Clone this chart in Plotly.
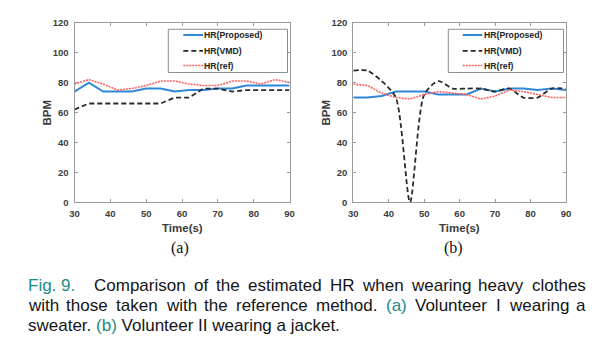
import plotly.graph_objects as go

# ---------------- data ----------------
t = [30, 34, 38, 42, 46, 50, 54, 58, 62, 66, 70, 74, 78, 82, 86, 90]

a_proposed = [74, 80, 74, 74, 74, 76, 76, 74, 75, 75, 76, 76, 78, 78, 78, 78]
a_vmd      = [62, 66, 66, 66, 66, 66, 66, 70, 70, 76, 76, 74, 75, 75, 75, 75]
a_ref      = [79, 82, 79, 75, 76, 78, 81, 81, 79, 78, 78, 81, 81, 79, 82, 80]

b_proposed = [70, 70, 71, 74, 74, 74, 72, 72, 72, 76, 74, 76, 76, 75, 76, 75]
b_vmd      = [88, 88, 81, 70, 0, 72, 81, 76, 76, 76, 74, 76, 70, 70, 76, 76]
b_ref      = [79, 78, 73, 70, 69, 72, 74, 73, 72, 69, 71, 75, 74, 72, 70, 70]

yticks = [0, 20, 40, 60, 80, 100, 120]
xticks = [30, 40, 50, 60, 70, 80, 90]
names = ["HR(Proposed)", "HR(VMD)", "HR(ref)"]
panel_labels = ["(a)", "(b)"]

# ---------------- style ----------------
W, H = 597, 355
OFF = 8                      # the page body adds an 8px margin
FW, FH = W - OFF, H - OFF    # figure size that fits the window
BLUE = "#2f87d8"
BLACK = "#2a2a2a"
RED = "#ff5f5f"
AX = "#9a9a9a"
TXT = "#3c3c3c"
TEAL = "#1d8a86"
SANS = "Liberation Sans, Arial, Helvetica"
SERIF = "Liberation Serif, Times New Roman"

styles = [
    dict(color=BLUE, width=2.0),
    dict(color=BLACK, width=1.8, dash="5px,3px"),
    dict(color=RED, width=1.6, dash="2px,1px"),
]

fig = go.Figure()

def add_panel(xa, ya, series, vmd_shape):
    for i, (nm, ys) in enumerate(zip(names, series)):
        ln = dict(styles[i])
        if i == 1:
            ln["shape"] = vmd_shape
            if vmd_shape == "spline":
                ln["smoothing"] = 0.7
        fig.add_trace(go.Scatter(x=t, y=ys, mode="lines", name=nm, line=ln,
                                 xaxis=xa, yaxis=ya, showlegend=False))

add_panel("x", "y", [a_proposed, a_vmd, a_ref], "linear")
add_panel("x2", "y2", [b_proposed, b_vmd, b_ref], "spline")

def P(x, y):
    """screen pixel -> paper fraction"""
    return (x - OFF) / FW, 1 - (y - OFF) / FH

# panel geometry (screen pixels)
px_a = [74.5, 289.5]
px_b = [353.3, 566.0]
py = [22.7, 202.3]
ydom = [P(0, py[1])[1], P(0, py[0])[1]]

tickfont = dict(family=SANS, size=9.5, color=TXT, weight="bold")

def xaxis(px, anchor):
    return dict(domain=[P(px[0], 0)[0], P(px[1], 0)[0]], anchor=anchor, range=[30, 90],
                tickmode="array", tickvals=xticks,
                ticks="inside", ticklen=3, tickcolor=AX, tickwidth=1,
                showline=True, linecolor=AX, linewidth=1, mirror="ticks",
                showgrid=False, zeroline=False, tickfont=tickfont,
                ticklabelstandoff=2, fixedrange=True)

def yaxis(anchor):
    return dict(domain=ydom, anchor=anchor, range=[0, 120],
                tickmode="array", tickvals=yticks,
                ticks="inside", ticklen=3, tickcolor=AX, tickwidth=1,
                showline=True, linecolor=AX, linewidth=1, mirror="ticks",
                showgrid=False, zeroline=False, tickfont=tickfont,
                ticklabelstandoff=3, fixedrange=True)

fig.update_layout(
    width=FW, height=FH, margin=dict(l=0, r=0, t=0, b=0, autoexpand=False),
    paper_bgcolor="white", plot_bgcolor="white", showlegend=False,
    xaxis=xaxis(px_a, "y"), yaxis=yaxis("x"),
    xaxis2=xaxis(px_b, "y2"), yaxis2=yaxis("x2"),
)

def text(s, x, y, font, xanchor="left", yanchor="middle", angle=0):
    xx, yy = P(x, y)
    fig.add_annotation(text=s, x=xx, y=yy, xref="paper", yref="paper",
                       showarrow=False, font=font, xanchor=xanchor,
                       yanchor=yanchor, textangle=angle, align="left",
                       borderpad=0, borderwidth=0)

# axis titles
titlefont = dict(family=SANS, size=11.5, color=TXT, weight="bold")
for px, bpm_x in [(px_a, 46.0), (px_b, 325.0)]:
    text("Time(s)", (px[0] + px[1]) / 2, 228.3, titlefont, xanchor="center")
    text("BPM", bpm_x, (py[0] + py[1]) / 2, titlefont, xanchor="center", angle=-90)

# custom legends (box + samples + labels)
legfont = dict(family=SANS, size=8.7, color="#222222", weight="bold")
leg_rows = [35.0, 50.8, 65.5]
for box, samp in [((168.3, 287.5), (183.3, 203.0)), ((448.3, 563.5), (462.7, 482.3))]:
    x0, y0 = P(box[0], 29.3)
    x1, y1 = P(box[1], 72.5)
    fig.add_shape(type="rect", xref="paper", yref="paper", x0=x0, x1=x1, y0=y1, y1=y0,
                  line=dict(color="#8c8c8c", width=1), fillcolor="white", layer="above")
    for i, ry in enumerate(leg_rows):
        sx0, sy = P(samp[0], ry)
        sx1, _ = P(samp[1], ry)
        st = styles[i]
        fig.add_shape(type="line", xref="paper", yref="paper", x0=sx0, x1=sx1, y0=sy, y1=sy,
                      line=dict(color=st["color"], width=st["width"], dash=st.get("dash", "solid")),
                      layer="above")
        text(names[i], samp[1] + 1.2, ry, legfont)

# sub-captions
serif = dict(family=SERIF, size=16, color="#111111")
text(panel_labels[0], 180.0, 248.3, serif, xanchor="center")
text(panel_labels[1], 453.0, 248.3, serif, xanchor="center")

# ---------------- caption (justified, word by word) ----------------
CAP = 17.0
capfont = dict(family=SANS, size=CAP, color="#141414")
tealfont = dict(family=SANS, size=CAP, color=TEAL)
AW = {" ": 278, "(": 333, ")": 333, ".": 278, "9": 556, "C": 722, "F": 611, "H": 722,
      "I": 278, "R": 722, "V": 667, "a": 556, "b": 556, "c": 500, "d": 556, "e": 556,
      "f": 278, "g": 556, "h": 556, "i": 222, "j": 222, "k": 500, "l": 222, "m": 833,
      "n": 556, "o": 556, "p": 556, "r": 333, "s": 500, "t": 278, "u": 556, "v": 500,
      "w": 722, "y": 500}

def width(s):
    return sum(AW.get(c, 556) for c in s) / 1000 * CAP

def justify(words, x0, x1, y):
    total = sum(width(w) for w, _ in words)
    gap = (x1 - x0 - total) / (len(words) - 1)
    x = x0
    for w, teal in words:
        text(w, x, y, tealfont if teal else capfont)
        x += width(w) + gap

L0, R0 = 27.7, 585.7
text("Fig.", L0, 285.5, tealfont)
text("9.", L0 + width("Fig. "), 285.5, tealfont)
line1 = "Comparison of the estimated HR when wearing heavy clothes".split()
justify([(w, False) for w in line1], 94.3, R0, 285.5)

line2 = "with those taken with the reference method. (a) Volunteer I wearing a".split()
justify([(w, w == "(a)") for w in line2], L0, R0, 305.5)

text(f"sweater. <span style='color:{TEAL}'>(b)</span> Volunteer II wearing a jacket.",
     L0, 325.5, capfont)

fig.write_html("out.html")
